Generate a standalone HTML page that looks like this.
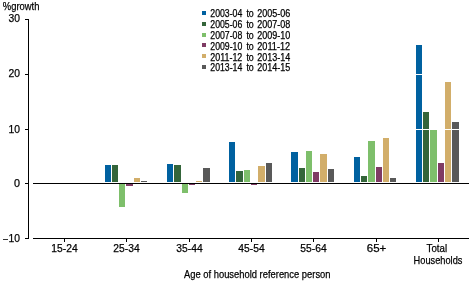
<!DOCTYPE html>
<html><head><meta charset="utf-8"><style>
html,body{margin:0;padding:0;background:#fff;width:472px;height:283px;overflow:hidden}
svg{display:block}
text{filter:grayscale(1)}
text{font-family:"Liberation Sans",sans-serif;fill:#000;stroke:#000;stroke-width:0.25}
</style></head><body>
<svg width="472" height="283" viewBox="0 0 472 283" shape-rendering="crispEdges">
<rect width="472" height="283" fill="#fff"/>
<rect x="105" y="165" width="6" height="17" fill="#0061a0"/>
<rect x="112" y="165" width="6" height="17" fill="#34653a"/>
<rect x="119" y="184" width="6" height="23" fill="#7ebf6b"/>
<rect x="126" y="184" width="7" height="2" fill="#7f3b64"/>
<rect x="134" y="178" width="6" height="4" fill="#d2ae6a"/>
<rect x="141" y="181" width="6" height="1" fill="#595959"/>
<rect x="167" y="164" width="6" height="18" fill="#0061a0"/>
<rect x="174" y="165" width="7" height="17" fill="#34653a"/>
<rect x="182" y="184" width="6" height="9" fill="#7ebf6b"/>
<rect x="189" y="184" width="6" height="1" fill="#7f3b64"/>
<rect x="196" y="181" width="6" height="1" fill="#d2ae6a"/>
<rect x="203" y="168" width="7" height="14" fill="#595959"/>
<rect x="229" y="142" width="6" height="40" fill="#0061a0"/>
<rect x="236" y="171" width="7" height="11" fill="#34653a"/>
<rect x="244" y="170" width="6" height="12" fill="#7ebf6b"/>
<rect x="251" y="184" width="6" height="1" fill="#7f3b64"/>
<rect x="258" y="166" width="7" height="16" fill="#d2ae6a"/>
<rect x="266" y="163" width="6" height="19" fill="#595959"/>
<rect x="291" y="152" width="7" height="30" fill="#0061a0"/>
<rect x="299" y="168" width="6" height="14" fill="#34653a"/>
<rect x="306" y="151" width="6" height="31" fill="#7ebf6b"/>
<rect x="313" y="172" width="6" height="10" fill="#7f3b64"/>
<rect x="320" y="154" width="7" height="28" fill="#d2ae6a"/>
<rect x="328" y="169" width="6" height="13" fill="#595959"/>
<rect x="354" y="157" width="6" height="25" fill="#0061a0"/>
<rect x="361" y="176" width="6" height="6" fill="#34653a"/>
<rect x="368" y="141" width="7" height="41" fill="#7ebf6b"/>
<rect x="376" y="167" width="6" height="15" fill="#7f3b64"/>
<rect x="383" y="138" width="6" height="44" fill="#d2ae6a"/>
<rect x="390" y="178" width="6" height="4" fill="#595959"/>
<rect x="416" y="45" width="6" height="137" fill="#0061a0"/>
<rect x="423" y="112" width="6" height="70" fill="#34653a"/>
<rect x="430" y="130" width="7" height="52" fill="#7ebf6b"/>
<rect x="438" y="163" width="6" height="19" fill="#7f3b64"/>
<rect x="445" y="82" width="6" height="100" fill="#d2ae6a"/>
<rect x="452" y="122" width="7" height="60" fill="#595959"/>
<rect x="3" y="239" width="5" height="1" fill="#333"/>
<rect x="202" y="11" width="4" height="4" fill="#0061a0"/>
<rect x="202" y="22" width="4" height="4" fill="#34653a"/>
<rect x="202" y="33" width="4" height="4" fill="#7ebf6b"/>
<rect x="202" y="43" width="4" height="4" fill="#7f3b64"/>
<rect x="202" y="54" width="4" height="4" fill="#d2ae6a"/>
<rect x="202" y="65" width="4" height="4" fill="#595959"/>
<rect x="33" y="74" width="436" height="1" fill="#fff"/>
<rect x="33" y="129" width="436" height="1" fill="#fff"/>
<rect x="28" y="19" width="1" height="220" fill="#000"/>
<rect x="25" y="19" width="3" height="1" fill="#000"/>
<rect x="25" y="74" width="3" height="1" fill="#000"/>
<rect x="25" y="129" width="3" height="1" fill="#000"/>
<rect x="25" y="183" width="3" height="1" fill="#000"/>
<rect x="25" y="238" width="3" height="1" fill="#000"/>
<rect x="33" y="183" width="436" height="1" fill="#000"/>
<rect x="33" y="238" width="436" height="1" fill="#000"/>
<rect x="64" y="239" width="1" height="3" fill="#000"/>
<rect x="126" y="239" width="1" height="3" fill="#000"/>
<rect x="189" y="239" width="1" height="3" fill="#000"/>
<rect x="251" y="239" width="1" height="3" fill="#000"/>
<rect x="313" y="239" width="1" height="3" fill="#000"/>
<rect x="376" y="239" width="1" height="3" fill="#000"/>
<rect x="438" y="239" width="1" height="3" fill="#000"/>
<g shape-rendering="auto">
<text x="2.8" y="10" font-size="11" text-anchor="start" textLength="36.6" lengthAdjust="spacingAndGlyphs">%growth</text>
<text x="8.5" y="22" font-size="11" text-anchor="start" textLength="11.5" lengthAdjust="spacingAndGlyphs">30</text>
<text x="8.5" y="77" font-size="11" text-anchor="start" textLength="11.5" lengthAdjust="spacingAndGlyphs">20</text>
<text x="8.5" y="133" font-size="11" text-anchor="start" textLength="11.5" lengthAdjust="spacingAndGlyphs">10</text>
<text x="14" y="187" font-size="11" text-anchor="start" textLength="6" lengthAdjust="spacingAndGlyphs">0</text>
<text x="8.5" y="242" font-size="11" text-anchor="start" textLength="11.5" lengthAdjust="spacingAndGlyphs">10</text>
<text x="64.5" y="252" font-size="11" text-anchor="middle" textLength="26.3" lengthAdjust="spacingAndGlyphs">15-24</text>
<text x="126.5" y="252" font-size="11" text-anchor="middle" textLength="26.3" lengthAdjust="spacingAndGlyphs">25-34</text>
<text x="189.5" y="252" font-size="11" text-anchor="middle" textLength="26.3" lengthAdjust="spacingAndGlyphs">35-44</text>
<text x="251.5" y="252" font-size="11" text-anchor="middle" textLength="26.3" lengthAdjust="spacingAndGlyphs">45-54</text>
<text x="313.5" y="252" font-size="11" text-anchor="middle" textLength="26.3" lengthAdjust="spacingAndGlyphs">55-64</text>
<text x="376.5" y="252" font-size="11" text-anchor="middle" textLength="19.5" lengthAdjust="spacingAndGlyphs">65+</text>
<text x="426.6" y="252" font-size="11" text-anchor="start" textLength="20.5" lengthAdjust="spacingAndGlyphs">Total</text>
<text x="413.6" y="264" font-size="11" text-anchor="start" textLength="48.8" lengthAdjust="spacingAndGlyphs">Households</text>
<text x="184" y="278" font-size="11" text-anchor="start" textLength="146.5" lengthAdjust="spacingAndGlyphs">Age of household reference person</text>
<text x="210.3" y="17" font-size="10" text-anchor="start" textLength="32" lengthAdjust="spacingAndGlyphs">2003-04</text>
<text x="246.4" y="17" font-size="10" text-anchor="start" textLength="7.4" lengthAdjust="spacingAndGlyphs">to</text>
<text x="257.2" y="17" font-size="10" text-anchor="start" textLength="33" lengthAdjust="spacingAndGlyphs">2005-06</text>
<text x="210.3" y="28" font-size="10" text-anchor="start" textLength="32" lengthAdjust="spacingAndGlyphs">2005-06</text>
<text x="246.4" y="28" font-size="10" text-anchor="start" textLength="7.4" lengthAdjust="spacingAndGlyphs">to</text>
<text x="257.2" y="28" font-size="10" text-anchor="start" textLength="33" lengthAdjust="spacingAndGlyphs">2007-08</text>
<text x="210.3" y="39" font-size="10" text-anchor="start" textLength="32" lengthAdjust="spacingAndGlyphs">2007-08</text>
<text x="246.4" y="39" font-size="10" text-anchor="start" textLength="7.4" lengthAdjust="spacingAndGlyphs">to</text>
<text x="257.2" y="39" font-size="10" text-anchor="start" textLength="33" lengthAdjust="spacingAndGlyphs">2009-10</text>
<text x="210.3" y="50" font-size="10" text-anchor="start" textLength="32" lengthAdjust="spacingAndGlyphs">2009-10</text>
<text x="246.4" y="50" font-size="10" text-anchor="start" textLength="7.4" lengthAdjust="spacingAndGlyphs">to</text>
<text x="257.2" y="50" font-size="10" text-anchor="start" textLength="33" lengthAdjust="spacingAndGlyphs">2011-12</text>
<text x="210.3" y="61" font-size="10" text-anchor="start" textLength="32" lengthAdjust="spacingAndGlyphs">2011-12</text>
<text x="246.4" y="61" font-size="10" text-anchor="start" textLength="7.4" lengthAdjust="spacingAndGlyphs">to</text>
<text x="257.2" y="61" font-size="10" text-anchor="start" textLength="33" lengthAdjust="spacingAndGlyphs">2013-14</text>
<text x="210.3" y="71" font-size="10" text-anchor="start" textLength="32" lengthAdjust="spacingAndGlyphs">2013-14</text>
<text x="246.4" y="71" font-size="10" text-anchor="start" textLength="7.4" lengthAdjust="spacingAndGlyphs">to</text>
<text x="257.2" y="71" font-size="10" text-anchor="start" textLength="33" lengthAdjust="spacingAndGlyphs">2014-15</text>
</g>
</svg>
</body></html>
